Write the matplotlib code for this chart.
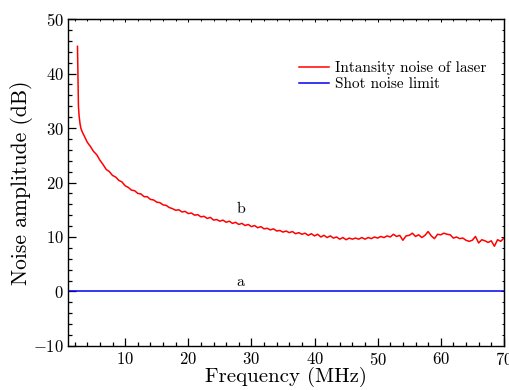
import numpy as np
import matplotlib
matplotlib.use('Agg')
import matplotlib.pyplot as plt
from matplotlib.ticker import MultipleLocator

plt.rcParams['font.family'] = 'serif'
plt.rcParams['font.serif'] = ['cmr10']
plt.rcParams['mathtext.fontset'] = 'cm'
plt.rcParams['axes.formatter.use_mathtext'] = True

# Intensity noise of the laser (curve b)
freq_head = [2.45, 2.5, 2.55, 2.6, 2.7, 2.85, 3.0, 3.2]
noise_head = [45.0, 41.0, 37.0, 34.0, 32.3, 30.8, 29.9, 29.3]

freq_tail = np.arange(3.5, 70.01, 0.5)
noise_tail = [
    28.6, 27.4, 26.6, 25.7, 25.1, 24.1, 23.3, 22.4, 22.0, 21.3,   # 3.5 - 8.0
    21.0, 20.4, 20.1, 19.4, 19.1, 18.6, 18.5, 18.0, 17.9, 17.4,   # 8.5 - 13.0
    17.4, 16.9, 16.8, 16.4, 16.3, 15.9, 15.8, 15.4, 15.2, 14.9,   # 13.5 - 18.0
    15.0, 14.6, 14.7, 14.3, 14.4, 14.0, 14.1, 13.7, 13.8, 13.4,   # 18.5 - 23.0
    13.6, 13.1, 13.2, 12.9, 13.1, 12.7, 12.9, 12.5, 12.7, 12.3,   # 23.5 - 28.0
    12.5, 12.1, 12.3, 11.9, 12.1, 11.7, 11.9, 11.5, 11.6, 11.3,   # 28.5 - 33.0
    11.5, 11.1, 11.2, 10.9, 11.1, 10.8, 11.0, 10.6, 10.8, 10.5,   # 33.5 - 38.0
    10.7, 10.3, 10.6, 10.2, 10.5, 10.0, 10.3, 9.9, 10.2, 9.8,     # 38.5 - 43.0
    10.0, 9.6, 9.9, 9.5, 9.8, 9.6, 9.8, 9.6, 9.9, 9.6,            # 43.5 - 48.0
    9.9, 9.7, 10.0, 9.8, 10.1, 9.9, 10.2, 10.0, 10.5, 10.1,       # 48.5 - 53.0
    10.3, 9.4, 10.2, 10.3, 10.7, 10.1, 10.4, 9.9, 10.3, 11.0,     # 53.5 - 58.0
    10.2, 9.7, 10.5, 10.4, 10.7, 10.5, 10.4, 9.8, 10.0, 9.7,      # 58.5 - 63.0
    9.8, 9.4, 9.2, 9.4, 10.1, 8.9, 9.5, 9.3, 9.0, 9.3,            # 63.5 - 68.0
    8.3, 9.5, 9.2, 9.8,                                           # 68.5 - 70.0
]

freq = np.concatenate([freq_head, freq_tail[:len(noise_tail)]])
noise = np.concatenate([noise_head, noise_tail])

# Shot noise limit (line a)
shot_freq = [1, 70]
shot_level = [0, 0]

fig = plt.figure(figsize=(5.1, 3.9), dpi=100)
ax = fig.add_axes([0.134, 0.113, 0.854, 0.838])

ax.plot(freq, noise, color='#ff0000', lw=1.1, label='Intansity noise of laser')
ax.plot(shot_freq, shot_level, color='#0000ee', lw=1.1, label='Shot noise limit')

ax.text(28.3, 15.2, 'b', fontsize=11.5, ha='center', va='center')
ax.text(28.2, 1.7, 'a', fontsize=11.5, ha='center', va='center')

ax.set_xlim(1, 70)
ax.set_ylim(-10, 50)
ax.xaxis.set_major_locator(MultipleLocator(10))
ax.xaxis.set_minor_locator(MultipleLocator(2))
ax.yaxis.set_major_locator(MultipleLocator(10))
ax.yaxis.set_minor_locator(MultipleLocator(2))
ax.set_xticks([10, 20, 30, 40, 50, 60, 70])
ax.tick_params(which='both', direction='in', labelsize=12, width=0.9)
ax.tick_params(which='major', length=6)
ax.tick_params(which='minor', length=3.2)
ax.tick_params(axis='x', pad=4)
for s in ax.spines.values():
    s.set_linewidth(1.0)

# short frame ticks on top and right
top = ax.secondary_xaxis('top')
top.xaxis.set_major_locator(MultipleLocator(10))
top.xaxis.set_minor_locator(MultipleLocator(2))
top.tick_params(which='both', direction='in', labeltop=False, width=0.7)
top.tick_params(which='major', length=2.5)
top.tick_params(which='minor', length=1.3)
right = ax.secondary_yaxis('right')
right.yaxis.set_major_locator(MultipleLocator(10))
right.yaxis.set_minor_locator(MultipleLocator(2))
right.tick_params(which='both', direction='in', labelright=False, width=0.7)
right.tick_params(which='major', length=2.5)
right.tick_params(which='minor', length=1.5)

ax.set_xlabel('Frequency (MHz)', fontsize=15, labelpad=-1)
ax.set_ylabel('Noise amplitude (dB)', fontsize=15.5, labelpad=0)

ax.legend(loc='upper left', bbox_to_anchor=(0.515, 0.89), frameon=False,
          fontsize=11, handlelength=2.0, handletextpad=0.4, labelspacing=0.15,
          borderaxespad=0)

fig.savefig('out.png', dpi=100)
